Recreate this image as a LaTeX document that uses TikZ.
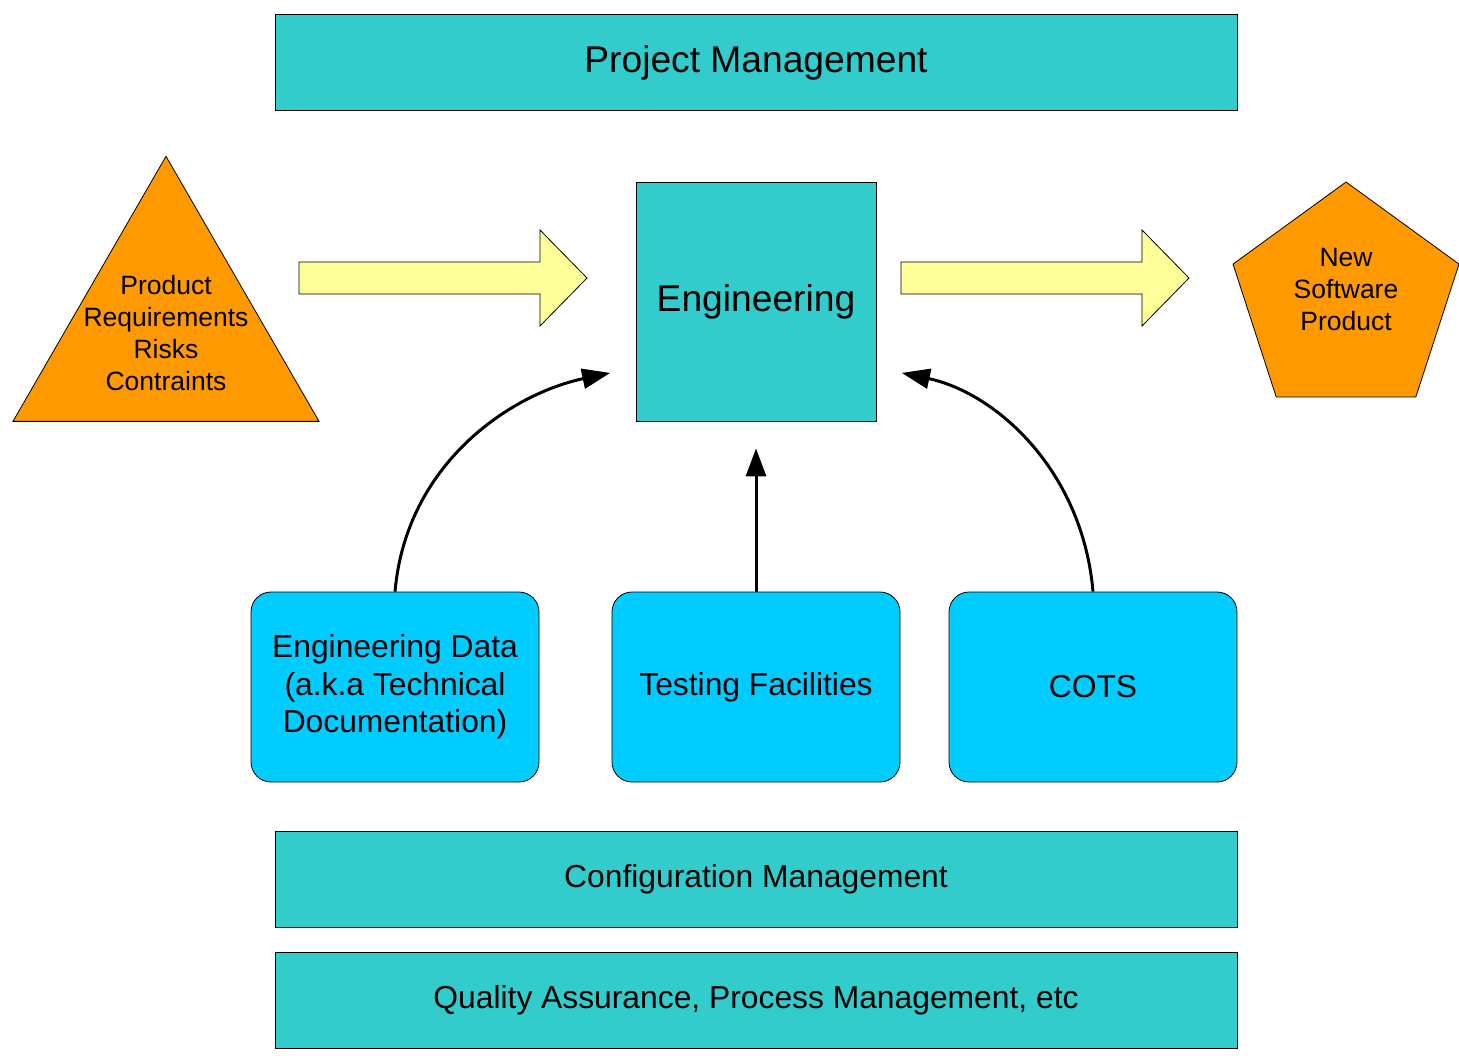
\documentclass[tikz,border=0pt]{standalone}
\usepackage{fontspec}
\setmainfont{Liberation Sans}
\usetikzlibrary{shapes.geometric,arrows.meta}

\definecolor{mgmt}{HTML}{33CCCC}
\definecolor{orng}{HTML}{FF9900}
\definecolor{yel}{HTML}{FFFF99}
\definecolor{sky}{HTML}{00CCFF}

\begin{document}
\begin{tikzpicture}[x=0.5pt, y=-0.5pt,
   bar/.style={draw, fill=mgmt, minimum width=481pt, minimum height=48pt, inner sep=0pt,
      font=\fontsize{15.9}{18.75}\selectfont},
   res/.style={draw, fill=sky, rounded corners=10pt, minimum width=144pt, minimum height=95pt,
      align=center, font=\fontsize{15.9}{18.75}\selectfont},
   small/.style={align=center, font=\fontsize{13.25}{16}\selectfont},
   post/.style={-{Triangle[length=14pt,width=10pt]}, line width=1.5pt},
   flow/.style={draw, fill=yel}]

   \useasboundingbox (0,0) rectangle (1459,1055);

   % management bars
   \node [bar, font=\fontsize{18.6}{22}\selectfont] (pm) at (756,62.5) {Project Management};
   \foreach \n/\y/\t in {cm/879.5/Configuration Management, qa/1000/{Quality Assurance, Process Management, etc}}
     \node [bar] (\n) at (756,\y) {\t};

   \node [draw, fill=mgmt, minimum width=120pt, minimum height=119.5pt,
      font=\fontsize{18.6}{22}\selectfont] (eng) at (756,301.5) {\raisebox{-1pt}{Engineering}};

   % input and output
   \node [regular polygon, regular polygon sides=3, draw, fill=orng, inner sep=0pt,
      minimum size=176.7pt] (req) at (166,333) {};
   \node [small] (reqtext) at (req.center) {Product\\Requirements\\Risks\\Contraints};
   \node [regular polygon, regular polygon sides=5, draw, fill=orng, inner sep=0pt,
      minimum size=118.8pt] (prod) at (1346,300.8) {};
   \node [small] (prodtext) at ([yshift=5.5pt]prod.center) {New\\Software\\Product};

   \foreach \s in {299, 901}
     \draw [flow] (\s,262) -- ++(241,0) -- ++(0,-32) -- ++(47,48) -- ++(-47,48)
        -- ++(0,-32) -- ++(-241,0) -- cycle;

   % resources
   \foreach \n/\x/\t in {data/395/{Engineering Data\\(a.k.a Technical\\Documentation)}, test/756/Testing Facilities, cots/1093/COTS}
     \node [res] (\n) at (\x,687) {\t};

   \draw [post, shorten >=13pt] (data.north) to[out=85, in=192] ([yshift=-33pt]eng.west);
   \draw [post, shorten >=13.5pt] (test.north) -- (eng.south);
   \draw [post, shorten >=13pt] (cots.north) to[out=95, in=-12] ([yshift=-33pt]eng.east);

\end{tikzpicture}
\end{document}
